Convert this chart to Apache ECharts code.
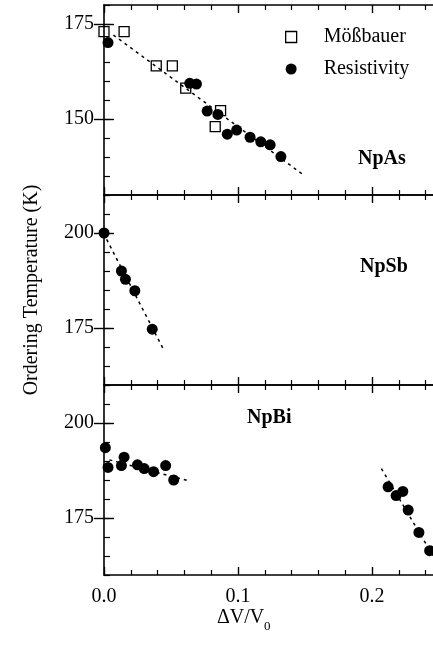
<!DOCTYPE html>
<html>
<head>
<meta charset="utf-8">
<script src="https://cdn.jsdelivr.net/npm/echarts@6/dist/echarts.min.js"></script>
<style>html,body{margin:0;padding:0;background:#fff;}#c{width:433px;height:656px;}</style>
</head>
<body>
<div id="c"></div>
<script>
// ---- data ----
const xTickValues = [0, 0.1, 0.2];
const xTickLabels = ['0.0', '0.1', '0.2'];
const npAsTicks = [150, 175];
const lowerTicks = [175, 200];

const npAsMossX = [0.000, 0.015, 0.039, 0.051, 0.061, 0.087, 0.083];
const npAsMossT = [173.0, 173.0, 164.0, 164.0, 158.1, 152.2, 148.0];
const npAsResX = [0.003, 0.064, 0.069, 0.077, 0.085, 0.092, 0.099, 0.109, 0.117, 0.124, 0.132];
const npAsResT = [170.1, 159.4, 159.2, 152.1, 151.2, 146.0, 147.1, 145.2, 144.0, 143.2, 140.1];
const npAsFit = [[0.007, 172.1], [0.148, 135.5]];

const npSbResX = [0.000, 0.013, 0.016, 0.023, 0.036];
const npSbResT = [200.0, 190.0, 187.8, 184.8, 174.7];
const npSbFit = [[0.002, 198.3], [0.0445, 169.3]];

const npBiResX = [0.001, 0.003, 0.013, 0.015, 0.025, 0.030, 0.037, 0.046, 0.052, 0.212, 0.218, 0.223, 0.227, 0.235, 0.243];
const npBiResT = [193.5, 188.3, 188.8, 191.0, 189.0, 188.0, 187.2, 188.8, 185.0, 183.2, 180.9, 182.0, 177.1, 171.2, 166.4];
const npBiFitLow = [[0.004, 190.3], [0.063, 184.8]];
const npBiFitHigh = [[0.207, 188.0], [0.25, 162.4]];

const panelRanges = [[130, 180], [160, 210], [160, 210]];
const panelMajors = [npAsTicks, lowerTicks, lowerTicks];

// ---- chart ----
const FONT = '"Liberation Serif", "Times New Roman", serif';
const pairs = (xs, ys) => xs.map((x, i) => [x, ys[i]]);
const chart = echarts.init(document.getElementById('c'), null, {renderer: 'canvas'});

const grids = [0, 1, 2].map(i => ({left: 104, top: 5 + 190 * i, width: 335, height: 190, containLabel: false, outerBoundsMode: 'none'}));
const axisLine = {show: true, onZero: false, lineStyle: {color: '#000', width: 1.6}};

const xAxes = [];
grids.forEach((g, i) => {
  ['bottom', 'top'].forEach(pos => {
    xAxes.push({
      type: 'value', gridIndex: i, position: pos, min: 0, max: 0.25, interval: 0.1,
      axisLine: axisLine,
      axisTick: {show: true, inside: true, length: 8, lineStyle: {color: '#000', width: 1.4}},
      minorTick: {show: true, splitNumber: 5, length: 5, lineStyle: {color: '#000', width: 1.2}},
      splitLine: {show: false}, minorSplitLine: {show: false},
      axisLabel: {
        show: pos === 'bottom' && i === 2, margin: 12, color: '#000', fontFamily: FONT, fontSize: 20,
        formatter: v => { const k = xTickValues.findIndex(t => Math.abs(t - v) < 1e-9); return k >= 0 ? xTickLabels[k] : ''; }
      }
    });
  });
});

const yAxes = [];
grids.forEach((g, i) => {
  const [mn, mx] = panelRanges[i];
  ['left', 'right'].forEach(pos => {
    yAxes.push({
      type: 'value', gridIndex: i, position: pos, min: mn, max: mx, interval: 5,
      axisLine: axisLine,
      axisTick: {show: true, inside: true, length: 6, lineStyle: {color: '#000', width: 1.2}},
      splitLine: {show: false}, axisLabel: {show: false}
    });
    const major = {
      type: 'value', gridIndex: i, position: pos, min: mn, max: mx,
      axisLine: {show: false},
      axisTick: {show: true, inside: true, length: 10, customValues: panelMajors[i], lineStyle: {color: '#000', width: 1.4}},
      splitLine: {show: false},
      axisLabel: {show: pos === 'left', customValues: panelMajors[i], margin: 10, color: '#000', fontFamily: FONT, fontSize: 20}
    };
    if (i === 1 && pos === 'left') {
      major.name = 'Ordering Temperature (K)';
      major.nameLocation = 'middle';
      major.nameGap = 62;
      major.nameTextStyle = {color: '#000', fontFamily: FONT, fontSize: 20};
    }
    yAxes.push(major);
  });
});

const fitLine = (data, gi) => ({
  type: 'line', name: 'fit' + gi, data: data, xAxisIndex: gi * 2, yAxisIndex: gi * 4,
  showSymbol: false, silent: true, z: 1, clip: true,
  lineStyle: {color: '#000', width: 1.5, type: [3, 4]}
});
const resSeries = (data, gi) => ({
  type: 'scatter', name: 'Resistivity', data: data, xAxisIndex: gi * 2, yAxisIndex: gi * 4,
  symbol: 'circle', symbolSize: 11, z: 3, itemStyle: {color: '#000', opacity: 1}
});

const series = [
  fitLine(npAsFit, 0),
  fitLine(npSbFit, 1),
  fitLine(npBiFitLow, 2),
  fitLine(npBiFitHigh, 2),
  resSeries(pairs(npAsResX, npAsResT), 0),
  resSeries(pairs(npSbResX, npSbResT), 1),
  resSeries(pairs(npBiResX, npBiResT), 2),
  {
    type: 'scatter', name: 'Mößbauer', data: pairs(npAsMossX, npAsMossT), xAxisIndex: 0, yAxisIndex: 0,
    symbol: 'rect', symbolSize: 10, z: 4,
    itemStyle: {color: 'rgba(255,255,255,0)', borderColor: '#000', borderWidth: 1.3, opacity: 1}
  }
];

const label = (text, x, y) => ({
  type: 'text', left: x, top: y - 11, silent: true,
  style: {text: text, font: 'bold 20px ' + FONT, fill: '#000'}
});

chart.setOption({
  animation: false,
  backgroundColor: '#fff',
  grid: grids,
  xAxis: xAxes,
  yAxis: yAxes,
  legend: {
    orient: 'vertical', left: 280, top: 22, itemWidth: 11, itemHeight: 11, itemGap: 12,
    textStyle: {color: '#000', fontFamily: FONT, fontSize: 20, padding: [0, 0, 0, 22]},
    data: [
      {name: 'Mößbauer', icon: 'rect', itemStyle: {color: '#fff', borderColor: '#000', borderWidth: 1.3}},
      {name: 'Resistivity', icon: 'circle', itemStyle: {color: '#000', opacity: 1}}
    ],
    selectedMode: false
  },
  graphic: [
    label('NpAs', 358, 160),
    label('NpSb', 360, 268),
    label('NpBi', 247, 419),
    {type: 'text', left: 217, top: 608, silent: true, style: {text: 'ΔV/V', font: '20px ' + FONT, fill: '#000'}},
    {type: 'text', left: 264, top: 620, silent: true, style: {text: '0', font: '13px ' + FONT, fill: '#000'}}
  ],
  series: series
});
</script>
</body>
</html>
